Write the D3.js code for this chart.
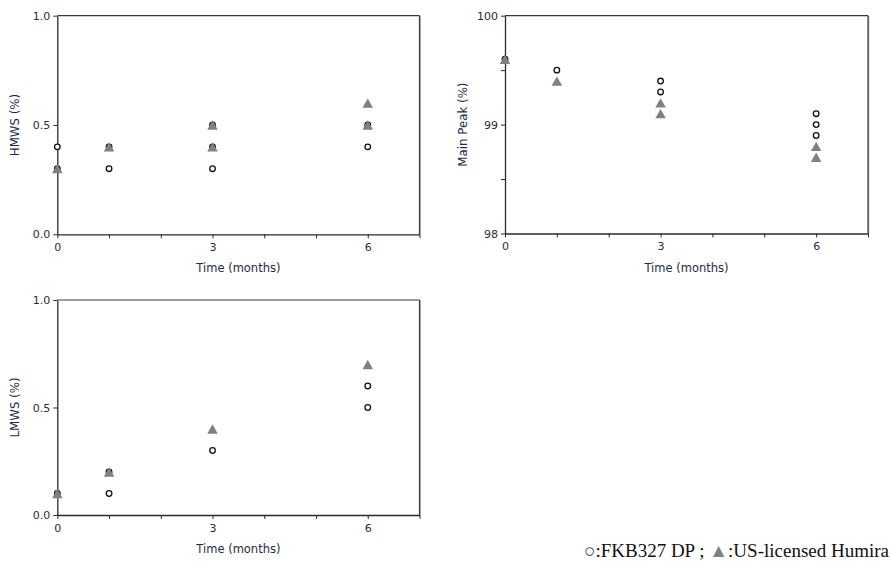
<!DOCTYPE html>
<html>
<head>
<meta charset="utf-8">
<script src="https://cdn.jsdelivr.net/npm/d3@7"></script>
<style>
  html, body { margin: 0; padding: 0; background: #fff; }
  svg { display: block; }
</style>
</head>
<body>
<svg id="chart" width="891" height="563"></svg>
<script>
// ---------------- data ----------------
const months = [0, 1, 3, 6];
const xTickLabels = [0, 3, 6];

// HMWS (%)
const hmwsFKB    = [[0.3, 0.4], [0.3, 0.4], [0.3, 0.4, 0.5], [0.4, 0.5]];
const hmwsHumira = [[0.3], [0.4], [0.4, 0.5], [0.5, 0.6]];

// Main Peak (%)
const peakFKB    = [[99.6], [99.5], [99.3, 99.4], [98.9, 99.0, 99.1]];
const peakHumira = [[99.6], [99.4], [99.1, 99.2], [98.7, 98.8]];

// LMWS (%)
const lmwsFKB    = [[0.1], [0.1, 0.2], [0.3], [0.5, 0.6]];
const lmwsHumira = [[0.1], [0.2], [0.4], [0.7]];

const hmwsTicks = [0.0, 0.5, 1.0];
const peakTicks = [98, 98.5, 99, 99.5, 100];
const peakLabels = [98, 99, 100];
const lmwsTicks = [0.0, 0.5, 1.0];

const legendParts = [
  { text: "\u25CB", color: "#333" },
  { text: ":FKB327 DP ; ", color: "#111" },
  { text: "\u25B2", color: "#808080" },
  { text: ":US-licensed Humira", color: "#111" }
];

// ---------------- drawing ----------------
const svg = d3.select("#chart");
const textColor = "#1f2b45";
const tickFont = "DejaVu Sans, Verdana, sans-serif";

function flatten(arr) {
  const out = [];
  arr.forEach((vals, i) => vals.forEach(v => out.push({ t: months[i], v })));
  return out;
}

function panel(opts) {
  const { left, right, top, bottom, yDomain, yTicks, yLabelVals, yFmt, yTitle, fkb, humira } = opts;
  const x = d3.scaleLinear().domain([0, 7]).range([left, right]);
  const y = d3.scaleLinear().domain(yDomain).range([bottom, top]);
  const g = svg.append("g");

  // frame top & right
  g.append("line").attr("x1", left).attr("x2", right).attr("y1", top).attr("y2", top)
    .attr("stroke", "#3a3a3a").attr("stroke-width", 1.2);
  g.append("line").attr("x1", right + 0.6).attr("x2", right + 0.6).attr("y1", top).attr("y2", bottom)
    .attr("stroke", "#9a9a9a").attr("stroke-width", 1.2);
  g.append("line").attr("x1", right).attr("x2", right).attr("y1", top).attr("y2", bottom)
    .attr("stroke", "#3a3a3a").attr("stroke-width", 1.2);

  // x axis
  const xAxis = d3.axisBottom(x).tickValues(d3.range(0, 8)).tickSize(4).tickSizeOuter(0)
    .tickFormat(d => xTickLabels.includes(d) ? String(d) : "");
  const gx = g.append("g").attr("transform", `translate(0,${bottom})`).call(xAxis);
  gx.select(".domain").attr("stroke", "#2a2a2a").attr("stroke-width", 1.3);
  gx.selectAll(".tick line").attr("stroke", "#2a2a2a").attr("stroke-width", 1);
  gx.selectAll(".tick text").attr("font-family", tickFont).attr("font-size", 11)
    .attr("fill", textColor).attr("y", 9);

  // y axis
  const yAxis = d3.axisLeft(y).tickValues(yTicks).tickSize(4).tickSizeOuter(0)
    .tickFormat(d => yLabelVals.includes(d) ? yFmt(d) : "");
  const gy = g.append("g").attr("transform", `translate(${left},0)`).call(yAxis);
  gy.select(".domain").attr("stroke", "#2a2a2a").attr("stroke-width", 1.3);
  gy.selectAll(".tick line").attr("stroke", "#2a2a2a").attr("stroke-width", 1);
  gy.selectAll(".tick text").attr("font-family", tickFont).attr("font-size", 11)
    .attr("fill", textColor).attr("x", -7);

  // titles
  g.append("text").attr("x", (left + right) / 2).attr("y", bottom + 38)
    .attr("text-anchor", "middle").attr("font-family", tickFont).attr("font-size", 11.5)
    .attr("fill", textColor).text("Time (months)");
  g.append("text")
    .attr("transform", `translate(${left - 38},${(top + bottom) / 2}) rotate(-90)`)
    .attr("text-anchor", "middle").attr("font-family", tickFont).attr("font-size", 11.8)
    .attr("fill", textColor).text(yTitle);

  // circles (FKB327)
  g.selectAll("circle.fkb").data(flatten(fkb)).join("circle")
    .attr("class", "fkb")
    .attr("cx", d => x(d.t)).attr("cy", d => y(d.v)).attr("r", 2.8)
    .attr("fill", "#fff").attr("stroke", "#111").attr("stroke-width", 1.3);

  // triangles (Humira)
  const w = 10.5, h = 9.3;
  g.selectAll("path.hum").data(flatten(humira)).join("path")
    .attr("class", "hum")
    .attr("d", d => {
      const cx = x(d.t), cy = y(d.v);
      return `M${cx},${cy - h / 2}L${cx + w / 2},${cy + h / 2}L${cx - w / 2},${cy + h / 2}Z`;
    })
    .attr("fill", "#808080");
}

panel({
  left: 57.3, right: 419.5, top: 15.7, bottom: 234.3,
  yDomain: [0, 1], yTicks: hmwsTicks, yLabelVals: hmwsTicks, yFmt: d3.format(".1f"),
  yTitle: "HMWS (%)", fkb: hmwsFKB, humira: hmwsHumira
});

panel({
  left: 505, right: 868, top: 15.7, bottom: 233.5,
  yDomain: [98, 100], yTicks: peakTicks, yLabelVals: peakLabels, yFmt: d3.format("d"),
  yTitle: "Main Peak (%)", fkb: peakFKB, humira: peakHumira
});

panel({
  left: 57.3, right: 419.5, top: 300, bottom: 515,
  yDomain: [0, 1], yTicks: lmwsTicks, yLabelVals: lmwsTicks, yFmt: d3.format(".1f"),
  yTitle: "LMWS (%)", fkb: lmwsFKB, humira: lmwsHumira
});

// legend
const legend = svg.append("text").attr("x", 889).attr("y", 557).attr("text-anchor", "end")
  .attr("font-family", "Liberation Serif, Times New Roman, serif").attr("font-size", 19);
legend.selectAll("tspan").data(legendParts).join("tspan")
  .attr("fill", d => d.color).text(d => d.text);
</script>
</body>
</html>
